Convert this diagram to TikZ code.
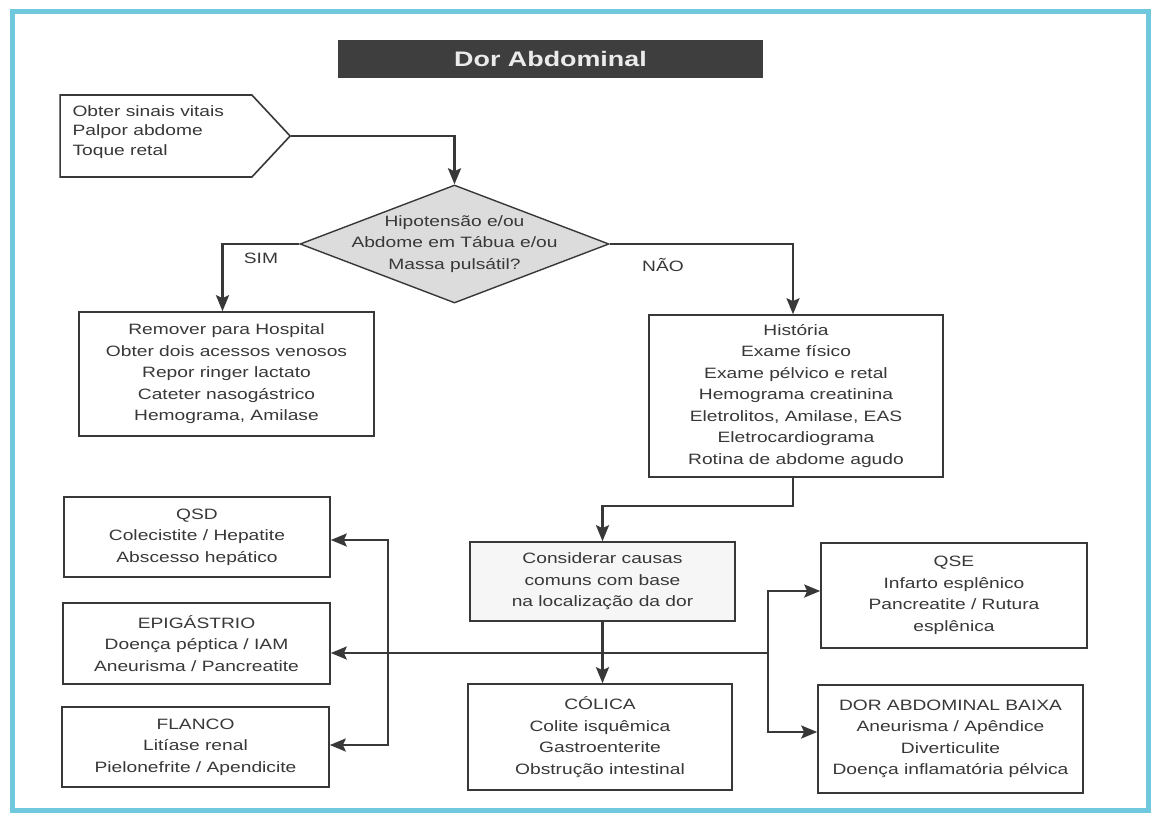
\documentclass[tikz,border=0pt]{standalone}
\usepackage{fontspec}
\setmainfont{Liberation Sans}[FakeStretch=1.28]
\usetikzlibrary{shapes.geometric,shapes.symbols,arrows.meta}
\definecolor{ink}{HTML}{383838}
\definecolor{framecol}{HTML}{6FC8DE}
\definecolor{diafill}{HTML}{DCDCDC}
\definecolor{titlefill}{HTML}{3E3E3E}
\definecolor{softfill}{HTML}{F6F6F6}
\begin{document}
\begin{tikzpicture}[x=1pt,y=-1pt,
  txt/.style={text=ink, font=\fontsize{15}{21.5}\selectfont},
  box/.style={txt, draw=ink, line width=1.6pt, fill=white, align=center, inner sep=0pt},
  conn/.style={draw=ink, line width=2.6pt, -{Stealth[length=16pt,width=13pt,inset=3pt]}}]
\useasboundingbox (0,0) rectangle (1154,822);
\fill[white] (0,0) rectangle (1154,822);
% outer frame
\draw[framecol, line width=5pt] (12,11) rectangle (1148,810);

% title bar
\node[fill=titlefill, minimum width=425pt, minimum height=38pt, inner sep=0pt,
      text=white!92!black, font=\fontsize{21}{24}\selectfont\bfseries]
  (title) at (550.5,59) {Dor Abdominal};

% first step
\node[draw=ink, line width=1.6pt, fill=white, shape=signal, signal to=east,
      signal pointer angle=94, minimum width=230pt, minimum height=82pt, inner sep=0pt]
  (start) at (156,136) {};
\node[txt, anchor=west, align=left, font=\fontsize{15}{19.5}\selectfont]
  (starttxt) at (69,132) {Obter sinais vitais\\Palpor abdome\\Toque retal};

% decision
\node[draw=ink, line width=1.4pt, fill=diafill, shape=diamond,
      minimum width=309pt, minimum height=118pt, inner sep=0pt] (q) at (454.5,244) {};
\node[txt, align=center] (qtxt) at (q.center)
  {Hipotensão e/ou\\Abdome em Tábua e/ou\\Massa pulsátil?};

% branches
\node[box, minimum width=295pt, minimum height=124pt] (rem) at (226.5,374)
  {Remover para Hospital\\Obter dois acessos venosos\\Repor ringer lactato\\Cateter nasogástrico\\Hemograma, Amilase};
\node[box, minimum width=294pt, minimum height=162pt] (hist) at (796,396)
  {História\\Exame físico\\Exame pélvico e retal\\Hemograma creatinina\\Eletrolitos, Amilase, EAS\\Eletrocardiograma\\Rotina de abdome agudo};
\node[box, fill=softfill, minimum width=265pt, minimum height=79pt] (cons) at (602.5,581.5)
  {Considerar causas\\comuns com base\\na localização da dor};

% locations
\node[box, minimum width=266pt, minimum height=80pt] (qsd) at (197,537)
  {QSD\\Colecistite / Hepatite\\Abscesso hepático};
\node[box, minimum width=267pt, minimum height=81pt] (epi) at (196.5,643.5)
  {EPIGÁSTRIO\\Doença péptica / IAM\\Aneurisma / Pancreatite};
\node[box, minimum width=267pt, minimum height=80pt] (fla) at (195.5,747)
  {FLANCO\\Litíase renal\\Pielonefrite / Apendicite};
\node[box, minimum width=264pt, minimum height=106pt] (col) at (600,737)
  {CÓLICA\\Colite isquêmica\\Gastroenterite\\Obstrução intestinal};
\node[box, minimum width=266pt, minimum height=105pt] (qse) at (954,595.5)
  {QSE\\Infarto esplênico\\Pancreatite / Rutura\\esplênica};
\node[box, minimum width=265pt, minimum height=108pt] (dab) at (950.5,739)
  {DOR ABDOMINAL BAIXA\\Aneurisma / Apêndice\\Diverticulite\\Doença inflamatória pélvica};

% branch labels
\node[txt] (sim) at (261,258) {SIM};
\node[txt] (nao) at (663,265) {NÃO};

% connectors
\draw[conn] (start.east) -| (q.north);
\draw[conn] (q.west) -| ([xshift=-4pt]rem.north);
\draw[conn] (q.east) -| ([xshift=-3pt]hist.north);
\draw[conn] ([xshift=-3pt]hist.south) -- ++(0,28) -| (cons.north);
\draw[conn] (cons.south) -- (cons.south |- col.north);

\coordinate (jr) at (768,653);
\coordinate (jl) at (388,653);
\draw[conn] (jr) -- (epi.east |- jr);
\draw[conn] (jr) |- ([yshift=4.5pt]qse.west);
\draw[conn] (jr) |- ([yshift=7pt]dab.west);
\draw[conn] (jl) |- ([yshift=-3pt]qsd.east);
\draw[conn] (jl) |- ([yshift=2pt]fla.east);
\end{tikzpicture}
\end{document}
